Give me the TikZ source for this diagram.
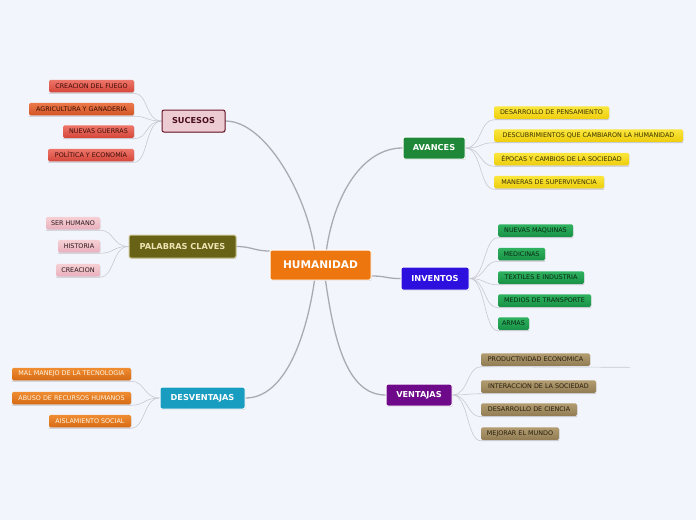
\documentclass[tikz,border=0pt]{standalone}
\usepackage{fontspec}
\setmainfont{DejaVu Sans}
\usetikzlibrary{calc,shadows}
\pgfdeclarelayer{back}
\pgfdeclarelayer{lines}
\pgfsetlayers{back,lines,main}
\definecolor{bg}{RGB}{243,245,253}
\definecolor{connc}{RGB}{170,170,178}
\definecolor{subc}{RGB}{200,200,208}
\definecolor{humc}{RGB}{238,118,14}
\definecolor{sucf}{RGB}{236,204,210}
\definecolor{sucd}{RGB}{106,20,40}
\definecolor{suct}{RGB}{74,12,28}
\definecolor{palf}{RGB}{104,98,22}
\definecolor{pald}{RGB}{206,200,150}
\definecolor{palt}{RGB}{236,228,180}
\definecolor{desf}{RGB}{24,156,192}
\definecolor{avaf}{RGB}{30,136,56}
\definecolor{invf}{RGB}{46,16,222}
\definecolor{venf}{RGB}{110,10,138}
\tikzset{
  main/.style={rectangle, rounded corners=2pt, draw=white, line width=1pt, inner sep=0pt,
    font=\fontsize{8.2}{9}\selectfont\bfseries, text=white,
    drop shadow={shadow xshift=0.7pt, shadow yshift=-0.9pt, opacity=0.3}},
  leaf/.style={rectangle, rounded corners=1.5pt, inner sep=0pt, minimum height=12.5pt,
    font=\fontsize{6.4}{7}\selectfont,
    drop shadow={shadow xshift=0.5pt, shadow yshift=-0.8pt, opacity=0.22}},
  redleaf/.style={leaf, top color={rgb,255:red,238;green,118;blue,106}, bottom color={rgb,255:red,214;green,70;blue,58}, text={rgb,255:red,60;green,12;blue,8}},
  agrleaf/.style={leaf, top color={rgb,255:red,236;green,122;blue,76}, bottom color={rgb,255:red,210;green,84;blue,36}, text={rgb,255:red,60;green,14;blue,4}},
  pinkleaf/.style={leaf, top color={rgb,255:red,246;green,208;blue,214}, bottom color={rgb,255:red,234;green,176;blue,188}, text={rgb,255:red,40;green,24;blue,26}},
  oraleaf/.style={leaf, top color={rgb,255:red,240;green,142;blue,52}, bottom color={rgb,255:red,214;green,106;blue,20}, text={rgb,255:red,255;green,244;blue,224}},
  yelleaf/.style={leaf, top color={rgb,255:red,250;green,230;blue,60}, bottom color={rgb,255:red,238;green,206;blue,14}, text={rgb,255:red,56;green,48;blue,0}},
  grnleaf/.style={leaf, top color={rgb,255:red,48;green,178;blue,96}, bottom color={rgb,255:red,24;green,146;blue,70}, text={rgb,255:red,8;green,40;blue,18}},
  tanleaf/.style={leaf, top color={rgb,255:red,178;green,156;blue,112}, bottom color={rgb,255:red,146;green,124;blue,84}, text={rgb,255:red,40;green,30;blue,14}},
  conn/.style={draw=connc, line width=1.3pt, line cap=round},
  sub/.style={draw=subc, line width=0.6pt},
}
\begin{document}
\begin{tikzpicture}[x=1pt,y=-1pt]
\begin{pgfonlayer}{back}
\fill[bg] (0,0) rectangle (696,520);
\end{pgfonlayer}
\useasboundingbox (0,0) rectangle (696,520);

% ---------- main nodes ----------
\node[main, fill=humc, minimum width=101pt, minimum height=30pt, font=\fontsize{10.6}{12}\selectfont\bfseries] (hum) at (320.5,265) {HUMANIDAD};
\node[main, fill=sucf, draw=sucd, text=suct, minimum width=63pt, minimum height=22pt] (suc) at (193.5,121) {SUCESOS};
\node[main, fill=palf, draw=pald, text=palt, minimum width=107pt, minimum height=23pt] (pal) at (182.5,246.5) {PALABRAS CLAVES};
\node[main, fill=desf, minimum width=85pt, minimum height=22pt] (des) at (202.5,398) {DESVENTAJAS};
\node[main, fill=avaf, minimum width=62pt, minimum height=22pt] (ava) at (434,148) {AVANCES};
\node[main, fill=invf, minimum width=68pt, minimum height=23pt] (inv) at (435,278.5) {INVENTOS};
\node[main, fill=venf, minimum width=66pt, minimum height=22pt] (ven) at (419,395) {VENTAJAS};

% ---------- leaves ----------
\node[redleaf, minimum width=85pt] (s1) at (91.5,86) {CREACION DEL FUEGO};
\node[agrleaf, minimum width=105pt] (s2) at (81.5,109) {AGRICULTURA Y GANADERIA};
\node[redleaf, minimum width=71pt] (s3) at (98.5,131.5) {NUEVAS GUERRAS};
\node[redleaf, minimum width=86pt] (s4) at (91,155) {POLÍTICA Y ECONOMÍA};

\node[pinkleaf, minimum width=54pt] (p1) at (73,223) {SER HUMANO};
\node[pinkleaf, minimum width=42pt] (p2) at (79,246) {HISTORIA};
\node[pinkleaf, minimum width=44pt] (p3) at (78,270) {CREACION};

\node[oraleaf, minimum width=119pt] (d1) at (71.5,374) {MAL MANEJO DE LA TECNOLOGIA};
\node[oraleaf, minimum width=119pt] (d2) at (71.5,398) {ABUSO DE RECURSOS HUMANOS};
\node[oraleaf, minimum width=82pt] (d3) at (90,421) {AISLAMIENTO SOCIAL};

\node[yelleaf, minimum width=115pt] (a1) at (551.5,112.5) {DESARROLLO DE PENSAMIENTO};
\node[yelleaf, minimum width=189pt] (a2) at (588.5,135.5) {DESCUBRIMIENTOS QUE CAMBIARON LA HUMANIDAD};
\node[yelleaf, minimum width=135pt] (a3) at (561.5,159) {ÉPOCAS Y CAMBIOS DE LA SOCIEDAD};
\node[yelleaf, minimum width=110pt] (a4) at (549,182) {MANERAS DE SUPERVIVENCIA};

\node[grnleaf, minimum width=75pt] (i1) at (535.5,230.5) {NUEVAS MAQUINAS};
\node[grnleaf, minimum width=47pt] (i2) at (521.5,254) {MEDICINAS};
\node[grnleaf, minimum width=86pt] (i3) at (541,277.5) {TEXTILES E INDUSTRIA};
\node[grnleaf, minimum width=93pt] (i4) at (544.5,300.5) {MEDIOS DE TRANSPORTE};
\node[grnleaf, minimum width=31pt] (i5) at (513.5,323.5) {ARMAS};

\node[tanleaf, minimum width=109pt] (v1) at (535.5,359.5) {PRODUCTIVIDAD ECONOMICA};
\node[tanleaf, minimum width=115pt] (v2) at (538.5,386.5) {INTERACCION DE LA SOCIEDAD};
\node[tanleaf, minimum width=96pt] (v3) at (529,409.5) {DESARROLLO DE CIENCIA};
\node[tanleaf, minimum width=78pt] (v4) at (520,433.5) {MEJORAR EL MUNDO};
\coordinate (vx) at (630,367.3);

% ---------- connectors (behind nodes) ----------
\begin{pgfonlayer}{lines}
% main branches
\draw[conn] ($(hum.north)+(-6,0)$) .. controls +(-8,-55) and +(40,0) .. (suc.east);
\draw[conn] ($(hum.west)+(0,-14)$) .. controls +(-15,0) and +(15,0) .. (pal.east);
\draw[conn] ($(hum.south)+(-6,0)$) .. controls +(-8,55) and +(40,0) .. (des.east);
\draw[conn] ($(hum.north)+(6,0)$) .. controls +(8,-55) and +(-40,0) .. (ava.west);
\draw[conn] ($(hum.east)+(0,11)$) .. controls +(15,0) and +(-15,0) .. (inv.west);
\draw[conn] ($(hum.south)+(5,0)$) .. controls +(8,55) and +(-40,0) .. (ven.west);
% left sub-branches
\foreach \p/\l in {suc/s1,suc/s2,suc/s3,suc/s4,pal/p1,pal/p2,pal/p3,des/d1,des/d2,des/d3}{
  \draw[sub] (\p.west) .. controls +(-16,0) and +(14,0) .. ($(\l.south east)+(0,0.8)$) -- ($(\l.south west)+(0,0.8)$);
}
% right sub-branches
\foreach \p/\l in {ava/a1,ava/a2,ava/a3,ava/a4,inv/i1,inv/i2,inv/i3,inv/i4,inv/i5,ven/v2,ven/v3,ven/v4}{
  \draw[sub] (\p.east) .. controls +(16,0) and +(-14,0) .. ($(\l.south west)+(0,0.8)$) -- ($(\l.south east)+(0,0.8)$);
}
\draw[sub] (ven.east) .. controls +(16,0) and +(-14,0) .. ($(v1.south west)+(0,0.8)$) -- (vx);
\end{pgfonlayer}
\end{tikzpicture}
\end{document}
